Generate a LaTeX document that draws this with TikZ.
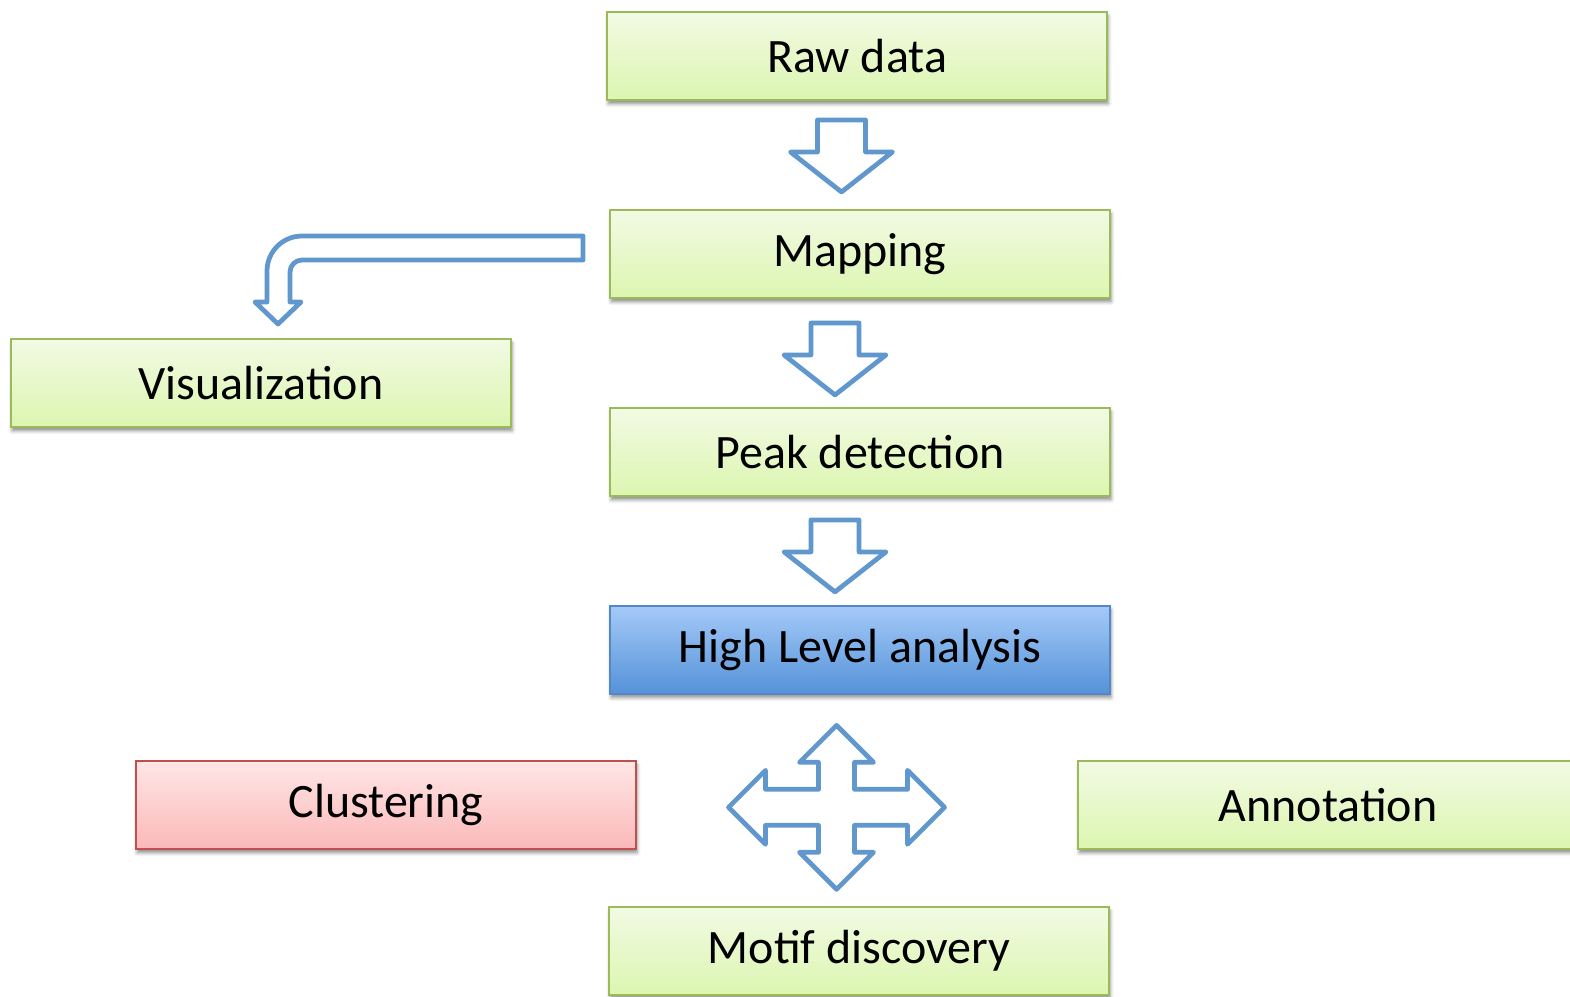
\documentclass[tikz,border=0pt]{standalone}
\usepackage{fontspec}
\setmainfont{Carlito}
\usetikzlibrary{positioning,calc,shadows.blur}
\definecolor{greenline}{RGB}{155,187,89}
\definecolor{greentop}{RGB}{242,250,228}
\definecolor{greenbot}{RGB}{220,246,176}
\definecolor{blueline}{RGB}{84,135,200}
\definecolor{bluetop}{RGB}{165,202,248}
\definecolor{bluebot}{RGB}{84,146,216}
\definecolor{redline}{RGB}{192,80,77}
\definecolor{redtop}{RGB}{255,230,230}
\definecolor{redbot}{RGB}{251,184,184}
\definecolor{arrowline}{RGB}{96,151,205}
\tikzset{
box/.style={draw=greenline, line width=1.1pt, top color=greentop, bottom color=greenbot,
  minimum width=10cm, minimum height=1.76cm, inner sep=0pt,
  font=\fontsize{27.3}{32}\selectfont,
  blur shadow={shadow xshift=0.6pt, shadow yshift=-2.2pt, shadow blur radius=2pt, shadow opacity=45}},
hlbox/.style={draw=blueline, top color=bluetop, bottom color=bluebot}, % the blue one
clbox/.style={draw=redline, top color=redtop, bottom color=redbot}, % the red one
blockarrow/.style={draw=arrowline, line width=2.7pt, line join=round, fill=white},
pics/downarrow/.style={code={
  \draw[blockarrow] (-24,-36) -- (24,-36) -- (24,-4) -- (51,-4) -- (0,36) -- (-51,-4) -- (-24,-4) -- cycle;
}},
pics/crossarrow/.style={code={
  \draw[blockarrow] (0,-82) -- (37,-45) -- (18,-45) -- (18,-18) -- (71,-18) -- (71,-37) -- (108,0)
    -- (71,37) -- (71,18) -- (18,18) -- (18,45) -- (37,45) -- (0,82) -- (-37,45) -- (-18,45)
    -- (-18,18) -- (-71,18) -- (-71,37) -- (-108,0) -- (-71,-37) -- (-71,-18) -- (-18,-18)
    -- (-18,-45) -- (-37,-45) -- cycle;
}},
}
\begin{document}
\begin{tikzpicture}[x=0.02cm, y=-0.02cm, node distance=3.96cm]
\useasboundingbox (0,0) rectangle (1570,997);

\node[box] (raw) at (857,56) {Raw data};
\node[box, below of=raw, xshift=0.06cm] (map) {Mapping};
\node[box, below of=map] (peak) {Peak detection};
\node[box, hlbox, below of=peak] (hla) {High Level analysis};
\node[box, below of=hla, node distance=6.02cm, xshift=-0.02cm] (motif) {Motif discovery};

\node[box] (vis) at (261,383) {Visualization};
\node[box, clbox] (clust) at (386,805) {Clustering};
\node[box] (annot) at (1328,805) {Annotation};

% arrows down the main column
\path ($(raw.south)!0.5!(map.north)$) ++(-17,1) pic {downarrow};
\path ($(map.south)!0.5!(peak.north)$) ++(-25,6) pic {downarrow};
\path ($(peak.south)!0.5!(hla.north)$) ++(-25,5) pic {downarrow};
\path ($(hla.south)!0.5!(motif.north)$) ++(-23,7) pic {crossarrow};

% bent arrow to visualization
\draw[blockarrow] (583,236) -- (302,236) arc[start angle=-90, end angle=-180, radius=35]
  -- (267,302) -- (255,302) -- (278,324) -- (301,302) -- (290,302) -- (290,272)
  arc[start angle=180, end angle=270, radius=12] -- (583,260) -- cycle;

\end{tikzpicture}
\end{document}
